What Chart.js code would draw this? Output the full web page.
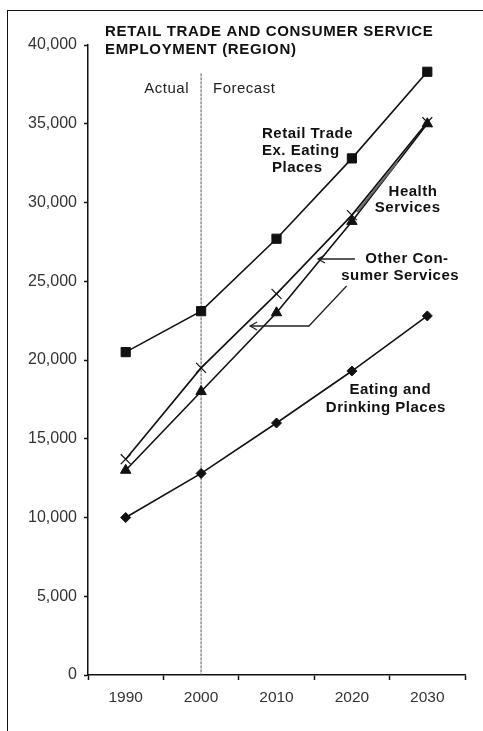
<!DOCTYPE html>
<html>
<head>
<meta charset="utf-8">
<script src="https://cdn.jsdelivr.net/npm/chart.js@4"></script>
<style>
  html, body { margin: 0; padding: 0; background: #fff; }
  #wrap { position: relative; width: 483px; height: 731px; }
  #frame { position: absolute; left: 7px; top: 10px; right: -2px; bottom: -2px; border-top: 1.5px solid #111; border-left: 1.5px solid #111; }
  canvas { position: absolute; left: 0; top: 0; }
</style>
</head>
<body>
<div id="wrap">
  <div id="frame"></div>
  <canvas id="myChart" width="483" height="731"></canvas>
</div>
<script>
var years = ['1990', '2000', '2010', '2020', '2030'];
var retailTrade = [20500, 23100, 27700, 32800, 38300];
var healthServices = [13000, 18000, 23000, 28800, 35000];
var otherConsumer = [13700, 19500, 24200, 29200, 35100];
var eatingDrinking = [10000, 12800, 16000, 19300, 22800];
var yTicks = [0, 5000, 10000, 15000, 20000, 25000, 30000, 35000, 40000];

var fam = '"Liberation Sans", Arial, sans-serif';
var labelFont = 'bold 15px ' + fam;
var titleFont = 'bold 15px ' + fam;

// title, labels, leader lines and the actual/forecast divider
var notes = {
  id: 'notes',
  beforeDatasetsDraw: function(chart) {
    var c = chart.ctx, x = chart.scales.x, y = chart.scales.y;
    c.save();
    c.strokeStyle = '#555';
    c.lineWidth = 1;
    c.setLineDash([3, 1]);
    c.beginPath();
    c.moveTo(x.getPixelForValue(1), y.getPixelForValue(38200));
    c.lineTo(x.getPixelForValue(1), y.getPixelForValue(0));
    c.stroke();
    c.restore();
  },
  afterDatasetsDraw: function(chart) {
    var c = chart.ctx, x = chart.scales.x, y = chart.scales.y;
    function at(i, v) { return [x.getPixelForValue(i), y.getPixelForValue(v)]; }
    function text(s, i, v, align, font, sp) {
      var p = at(i, v);
      c.font = font || labelFont;
      c.letterSpacing = (sp === undefined ? 0.5 : sp) + 'px';
      c.textAlign = align;
      c.fillText(s, p[0], p[1]);
    }
    c.save();
    c.fillStyle = '#111';
    c.textBaseline = 'middle';

    text('RETAIL TRADE AND CONSUMER SERVICE', -0.274, 40825, 'left', titleFont, 0.65);
    text('EMPLOYMENT (REGION)', -0.274, 39683, 'left', titleFont, 0.65);

    c.fillStyle = '#222';
    text('Actual', 0.84, 37206, 'right', '15px ' + fam, 0.5);
    text('Forecast', 1.158, 37206, 'left', '15px ' + fam, 0.5);

    c.fillStyle = '#111';
    text('Retail Trade', 1.808, 34349, 'left');
    text('Ex. Eating', 1.808, 33270, 'left');
    text('Places', 1.94, 32190, 'left');
    text('Health', 3.81, 30667, 'center');
    text('Services', 3.74, 29651, 'center');
    text('Other Con-', 3.73, 26412, 'center');
    text('sumer Services', 3.64, 25333, 'center');
    text('Eating and', 3.51, 18095, 'center');
    text('Drinking Places', 3.45, 16952, 'center');
    c.letterSpacing = '0px';

    // leader lines
    c.strokeStyle = '#222';
    c.lineWidth = 1.3;
    function path(pts) {
      c.beginPath();
      pts.forEach(function(q, k) {
        var p = at(q[0], q[1]);
        if (k === 0) c.moveTo(p[0], p[1]); else c.lineTo(p[0], p[1]);
      });
      c.stroke();
    }
    function arrowLeft(i, v) {
      var p = at(i, v);
      c.beginPath();
      c.moveTo(p[0] + 7, p[1] - 4);
      c.lineTo(p[0], p[1]);
      c.lineTo(p[0] + 7, p[1] + 4);
      c.stroke();
    }
    path([[3.04, 26412], [2.55, 26412]]);
    arrowLeft(2.55, 26412);
    path([[2.93, 24698], [2.43, 22159], [1.65, 22159]]);
    arrowLeft(1.65, 22159);
    c.strokeStyle = '#666';
    c.lineWidth = 2;
    path([[3.6, 32571], [3.07, 29397]]);
    c.restore();
  }
};

var ctx = document.getElementById('myChart').getContext('2d');
var myChart = new Chart(ctx, {
  type: 'line',
  data: {
    labels: years,
    datasets: [
      {
        label: 'Retail Trade Ex. Eating Places',
        data: retailTrade,
        pointStyle: 'rect',
        pointRadius: 6.5
      },
      {
        label: 'Health Services',
        data: healthServices,
        pointStyle: 'triangle',
        pointRadius: 6
      },
      {
        label: 'Other Consumer Services',
        data: otherConsumer,
        pointStyle: 'crossRot',
        pointRadius: 7,
        pointBorderWidth: 1.2
      },
      {
        label: 'Eating and Drinking Places',
        data: eatingDrinking,
        pointStyle: 'rectRot',
        pointRadius: 5
      }
    ]
  },
  options: {
    responsive: false,
    animation: false,
    layout: { padding: { top: 45, right: 18, left: 0, bottom: 0 } },
    elements: {
      line: { borderColor: '#111', borderWidth: 1.6, tension: 0 },
      point: { backgroundColor: '#111', borderColor: '#111', borderWidth: 1 }
    },
    plugins: {
      legend: { display: false },
      title: { display: false },
      tooltip: { enabled: false }
    },
    scales: {
      x: {
        offset: true,
        grid: { offset: true, drawOnChartArea: false, tickLength: 5, color: '#111', tickWidth: 1.5 },
        border: { color: '#111', width: 1.5 },
        ticks: { color: '#333', padding: 8, font: { family: fam, size: 15.5 } },
        afterFit: function(s) { s.height = 56; }
      },
      y: {
        min: 0,
        max: 40000,
        afterBuildTicks: function(s) { s.ticks = yTicks.map(function(v) { return { value: v }; }); },
        grid: { drawOnChartArea: false, tickLength: 4, color: '#111', tickWidth: 1.5 },
        border: { color: '#111', width: 1.5 },
        ticks: {
          color: '#333',
          padding: 7,
          font: { family: fam, size: 16 },
          callback: function(v) { return v.toLocaleString('en-US'); }
        },
        afterFit: function(s) { s.width = 88; }
      }
    }
  },
  plugins: [notes]
});
</script>
</body>
</html>
